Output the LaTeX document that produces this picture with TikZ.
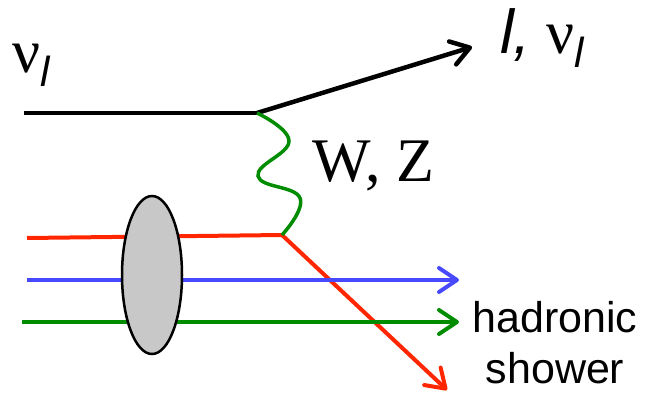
\documentclass[tikz,border=0pt]{standalone}
\usepackage{fontspec}
\setmainfont{Liberation Serif}
\newfontfamily\labelsans{Liberation Sans}
\usetikzlibrary{arrows.meta, shapes.geometric}
\definecolor{quarkred}{RGB}{255,38,0}
\definecolor{quarkblue}{RGB}{72,72,255}
\definecolor{quarkgreen}{RGB}{0,140,0}
\definecolor{nucleongray}{RGB}{200,200,200}
\newcommand{\lepsub}{\raisebox{-14pt}{\labelsans\itshape\fontsize{42}{44}\selectfont l}}

\begin{document}
\begin{tikzpicture}[x=1pt, y=1pt,
  every node/.style={inner sep=0pt},
  big/.style={font=\fontsize{62}{70}\selectfont},
  tip/.style={-{Straight Barb[length=18pt, width=24pt, round]}},
  lepton/.style={line width=4.5pt, black},
  quark/.style={line width=4pt},
  boson/.style={line width=3.5pt, quarkgreen}]
 \useasboundingbox (0,0) rectangle (645,392);
 % neutrino in, lepton out
 \coordinate (nuin) at (24,279);
 \coordinate (vtop) at (257,279);
 \coordinate (lout) at (472,345);
 \draw[lepton] (nuin) -- (vtop);
 \draw[lepton, tip] (vtop) -- (lout);
 % quark lines
 \coordinate (rin)  at (27,154);
 \coordinate (vbot) at (282,157);
 \coordinate (rout) at (447,2);
 \coordinate (bin)  at (27,112);
 \coordinate (bout) at (459,112);
 \coordinate (gin)  at (22,70);
 \coordinate (gout) at (459,70);
 \draw[quark, quarkred] (rin) -- (vbot);
 \draw[quark, quarkred, tip] (vbot) -- (rout);
 \draw[quark, quarkblue, tip] (bin) -- (bout);
 \draw[quark, quarkgreen, tip] (gin) -- (gout);
 % exchanged boson
 \draw[boson] plot[smooth, tension=0.75] coordinates {(vtop) (289,251) (258,216) (300,194) (vbot)};
 \node[ellipse, draw, line width=2.5pt, fill=nucleongray, minimum width=60pt, minimum height=158pt] (nucleon) at (152,117) {};
 % labels
 \node[big, anchor=base west] (nulbl) at (12,320) {ν\lepsub};
 \node[big, anchor=base west] (lnulbl) at (500,339) {{\labelsans\itshape l,} ν\lepsub};
 \node[big, anchor=base west] (wzlbl) at (312,211) {W, Z};
 \node[align=center, anchor=base, font=\labelsans\fontsize{43}{51}\selectfont] (hadlbl) at (555,9) {hadronic\\shower};
\end{tikzpicture}
\end{document}
